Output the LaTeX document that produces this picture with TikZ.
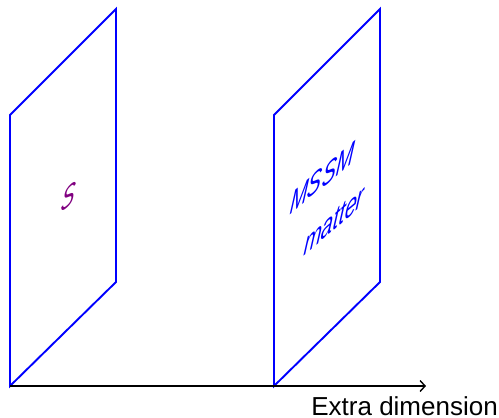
\documentclass[tikz,border=0pt]{standalone}
\usepackage{fontspec}
\setmainfont{Liberation Sans}
\usetikzlibrary{arrows.meta}
\definecolor{brane}{RGB}{0,0,255}
\definecolor{spurple}{RGB}{128,0,128}
\begin{document}
\begin{tikzpicture}[x=1pt,y=-1pt,
  branestyle/.style={draw=brane,line width=1.9pt,line join=miter},
  axisstyle/.style={draw=black,line width=1.9pt,-{Straight Barb[length=5pt,width=11pt,line width=1.4pt]}},
  lbl/.style={font=\fontsize{26}{30}\selectfont,inner sep=0pt},
  onbrane/.style={inner sep=0pt,cm={1.03,0.865,0.2,1.6,(0,0)}}]
\useasboundingbox (0,0) rectangle (499,418);
% left brane
\coordinate (l1) at (10,386);
\coordinate (l2) at (10,115);
\coordinate (l3) at (116,9);
\coordinate (l4) at (116,282);
\draw[branestyle] (l1) -- (l2) -- (l3) -- (l4) -- cycle;
% right brane
\coordinate (r1) at (274,386);
\coordinate (r2) at (274,115);
\coordinate (r3) at (380,9);
\coordinate (r4) at (380,282);
\draw[branestyle] (r1) -- (r2) -- (r3) -- (r4) -- cycle;
% axis
\coordinate (axend) at (426,386);
\draw[axisstyle] (l1) -- (axend);
\node[lbl,anchor=base east] (xl) at (498,415) {Extra dimension};
\node[onbrane,text=spurple,font=\fontsize{20}{22}\selectfont\itshape] (s) at (69,197) {S};
\node[onbrane,anchor=base,text=brane,font=\fontsize{20.5}{24}\selectfont\itshape] (m1) at (321,189) {MSSM};
\node[onbrane,anchor=base,text=brane,font=\fontsize{20.5}{24}\selectfont\itshape] (m2) at (333,231) {matter};
\end{tikzpicture}
\end{document}
